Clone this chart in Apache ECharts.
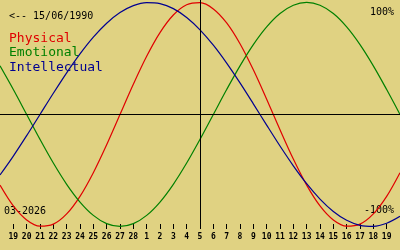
<!DOCTYPE html>
<html>
<head>
<meta charset="utf-8">
<script src="https://cdn.jsdelivr.net/npm/echarts@6/dist/echarts.min.js"></script>
<style>
html,body{margin:0;padding:0;background:#e0d282;}
#c{width:400px;height:250px;}
</style>
</head>
<body>
<div id="c"></div>
<script>
// Days shown (month-day), from 18 Feb to 20 Mar 2026
const categories = ['02-18','02-19','02-20','02-21','02-22','02-23','02-24','02-25','02-26','02-27','02-28',
  '03-01','03-02','03-03','03-04','03-05','03-06','03-07','03-08','03-09','03-10',
  '03-11','03-12','03-13','03-14','03-15','03-16','03-17','03-18','03-19','03-20'];
const today = '03-05';
// Biorhythm values (-1 .. 1)
const physical = [-0.6311, -0.8170, -0.9423, -0.9977, -0.9791, -0.8879, -0.7308, -0.5196, -0.2698, 0,
  0.2698, 0.5196, 0.7308, 0.8879, 0.9791, 0.9977, 0.9423, 0.8170, 0.6311, 0.3984, 0.1362,
  -0.1362, -0.3984, -0.6311, -0.8170, -0.9423, -0.9977, -0.9791, -0.8879, -0.7308, -0.5196];
const emotional = [0.4339, 0.2225, 0, -0.2225, -0.4339, -0.6235, -0.7818, -0.9010, -0.9749, -1,
  -0.9749, -0.9010, -0.7818, -0.6235, -0.4339, -0.2225, 0, 0.2225, 0.4339, 0.6235, 0.7818,
  0.9010, 0.9749, 1, 0.9749, 0.9010, 0.7818, 0.6235, 0.4339, 0.2225, 0];
const intellectual = [-0.5406, -0.3717, -0.1893, 0, 0.1893, 0.3717, 0.5406, 0.6901, 0.8146, 0.9096,
  0.9718, 0.9989, 0.9898, 0.9450, 0.8660, 0.7557, 0.6182, 0.4582, 0.2817, 0.0951, -0.0951,
  -0.2817, -0.4582, -0.6182, -0.7557, -0.8660, -0.9450, -0.9898, -0.9989, -0.9718, -0.9096];
const birthText = '<-- 15/06/1990';
const monthText = '03-2026';
const names = ['Physical', 'Emotional', 'Intellectual'];
const colors = ['#e00000', '#008000', '#000090'];

const FONT = '"DejaVu Sans Mono", monospace';
const chart = echarts.init(document.getElementById('c'));
const lastIdx = categories.length - 1;
const mk = (name, data, color, extra) => Object.assign({
  name, type: 'line', data, symbol: 'none', smooth: 0.33, clip: false,
  lineStyle: { color, width: 1.2 }, itemStyle: { color }, silent: true
}, extra || {});

chart.setOption({
  animation: false,
  backgroundColor: '#e0d282',
  grid: { left: 0, right: 0, top: 0, bottom: 26, containLabel: false },
  xAxis: {
    type: 'category', data: categories, boundaryGap: false,
    axisLine: { show: false, onZero: false },
    axisTick: { show: true, length: 5, lineStyle: { color: '#000', width: 1 },
      interval: (i) => i !== 0 && i !== lastIdx },
    axisLabel: { show: true, color: '#000', fontFamily: FONT, fontSize: 8, fontWeight: 'bold', margin: 9,
      interval: (i) => i !== 0 && i !== lastIdx,
      formatter: (v) => String(parseInt(v.slice(3), 10)) },
    splitLine: { show: false }
  },
  yAxis: { type: 'value', min: -0.978, max: 1.022, show: false, splitLine: { show: false } },
  series: [
    mk(names[0], physical, colors[0], {
      markLine: {
        silent: true, symbol: 'none', label: { show: false },
        lineStyle: { color: '#000', width: 1, type: 'solid' },
        data: [
          { yAxis: 0 },
          { xAxis: today }
        ]
      }
    }),
    mk(names[1], emotional, colors[1]),
    mk(names[2], intellectual, colors[2])
  ],
  graphic: [
    { type: 'text', x: 9, y: 16.5, style: { text: birthText, font: '10px ' + FONT, fill: '#000', verticalAlign: 'middle' } },
    { type: 'text', x: 9, y: 38.2, style: { text: names[0], font: '13px ' + FONT, fill: colors[0], verticalAlign: 'middle' } },
    { type: 'text', x: 9, y: 52.8, style: { text: names[1], font: '13px ' + FONT, fill: colors[1], verticalAlign: 'middle' } },
    { type: 'text', x: 9, y: 67.8, style: { text: names[2], font: '13px ' + FONT, fill: colors[2], verticalAlign: 'middle' } },
    { type: 'text', x: 394, y: 12.2, style: { text: '100%', font: '10px ' + FONT, fill: '#000', align: 'right', verticalAlign: 'middle' } },
    { type: 'text', x: 394, y: 210.8, style: { text: '-100%', font: '10px ' + FONT, fill: '#000', align: 'right', verticalAlign: 'middle' } },
    { type: 'text', x: 4, y: 211.5, style: { text: monthText, font: '10px ' + FONT, fill: '#000', verticalAlign: 'middle' } }
  ]
});
</script>
</body>
</html>
